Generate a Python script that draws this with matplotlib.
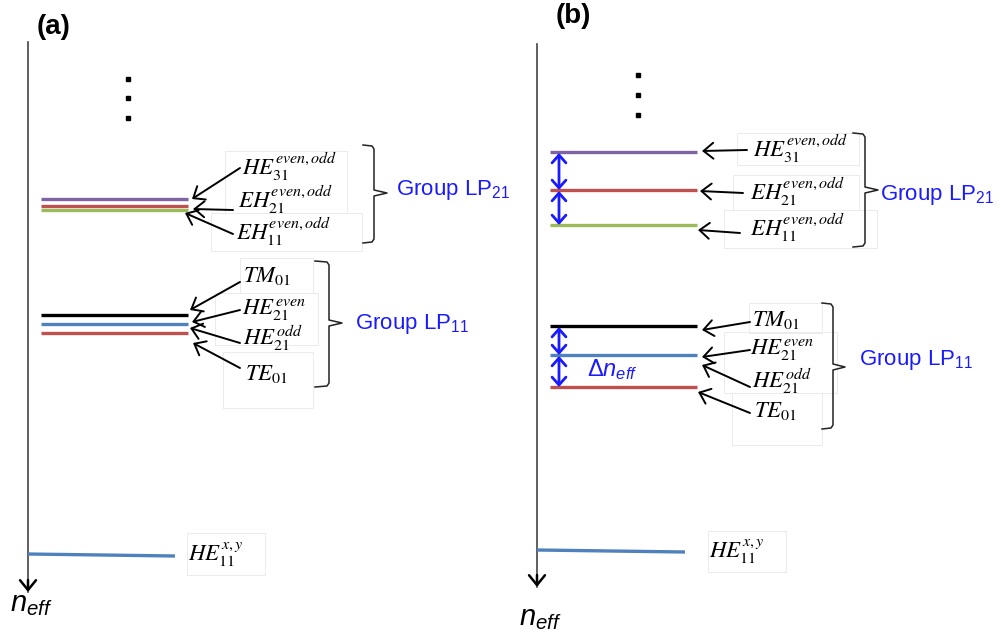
import matplotlib
matplotlib.use('Agg')
import matplotlib.pyplot as plt
from matplotlib.patches import Rectangle

plt.rcParams['font.family'] = ['Liberation Sans', 'DejaVu Sans']
plt.rcParams['mathtext.fontset'] = 'custom'
plt.rcParams['mathtext.rm'] = 'Liberation Sans'
plt.rcParams['mathtext.it'] = 'Liberation Sans:italic'
plt.rcParams['mathtext.bf'] = 'Liberation Sans:bold'

# mode names and level colours
lp21_modes = [r'$HE_{31}^{even,odd}$', r'$EH_{21}^{even,odd}$', r'$EH_{11}^{even,odd}$']
lp21_colors = ['#8064a2', '#c0504d', '#9bbb59']
lp11_modes = [r'$TM_{01}$', r'$HE_{21}^{even}$', r'$HE_{21}^{odd}$', r'$TE_{01}$']
lp11_colors = ['black', '#4f81bd', '#c0504d']
fund_mode = r'$HE_{11}^{x,y}$'
fund_color = '#4f81bd'

# level rows (screen units, n_eff grows downwards)
a_lp21_levels = [199, 206, 210]
a_lp11_levels = [315, 324, 333]
a_fund_level = [554, 556]
b_lp21_levels = [152, 190, 225]
b_lp11_levels = [326, 355, 387]
b_fund_level = [550, 552]

fig = plt.figure(figsize=(10.02, 6.41), dpi=100)
ax = fig.add_axes([0, 0, 1, 1])
ax.set_xlim(0, 1002)
ax.set_ylim(641, 0)
ax.axis('off')

BLUE = '#1a1aff'


def arrow(x0, y0, x1, y1, color='black', style='->,head_length=0.32,head_width=0.26',
          lw=1.4, ms=22):
    ax.annotate('', xy=(x1, y1), xytext=(x0, y0),
                arrowprops=dict(arrowstyle=style, color=color, lw=lw,
                                mutation_scale=ms, shrinkA=0, shrinkB=0))


def brace(x0, x1, xn, ytop, ymid, ybot):
    ax.plot([x0, x1 - 2, x1, x1, xn, x1, x1, x1 - 2, x0],
            [ytop, ytop + 1, ytop + 4, ymid - 3, ymid, ymid + 3, ybot - 4, ybot - 1, ybot],
            color='#222222', lw=1.1, solid_joinstyle='round')


def box(x0, y0, x1, y1):
    ax.add_patch(Rectangle((x0, y0), x1 - x0, y1 - y0, fill=False,
                           edgecolor='#ebebeb', lw=0.7))


def mode_label(x, y, s):
    ax.text(x, y, s, fontsize=16.5, math_fontfamily='stix', va='baseline', ha='left')


def axis(x, ytop, ytip, label_x, label_y):
    ax.plot([x, x], [ytop, ytip], color='#444444', lw=1.2)
    arrow(x, ytip - 12, x, ytip, lw=1.8, ms=22)
    ax.text(label_x, label_y, r'$n_{eff}$', fontsize=21, va='baseline', ha='left')


def dots(x, ys):
    ax.plot([x] * len(ys), ys, ls='none', marker='s', ms=3.2, color='black')


# ---------------- panel (a) ----------------
ax.text(37, 27, '(a)', fontsize=20, fontweight='bold', va='center', ha='left')
axis(28, 42, 592, 10, 611)
dots(128, [79, 98, 118])

for y, c in zip(a_lp21_levels, lp21_colors):
    ax.plot([41, 188], [y, y], color=c, lw=2.4, solid_capstyle='butt')
for y, c in zip(a_lp11_levels, lp11_colors):
    ax.plot([41, 188], [y, y], color=c, lw=2.4, solid_capstyle='butt')
ax.plot([28, 175], a_fund_level, color=fund_color, lw=2.4, solid_capstyle='butt')

box(225, 151, 347, 213)
box(211, 213, 362, 251)
box(240, 258, 313, 293)
box(215, 293, 318, 345)
box(223, 352, 313, 408)
box(187, 533, 265, 575)

for s, x, y in zip(lp21_modes, [242, 238, 236], [175, 208, 240]):
    mode_label(x, y, s)
for s, x, y in zip(lp11_modes, [243, 242, 243, 245], [282, 315, 345, 380]):
    mode_label(x, y, s)
mode_label(188, 561, fund_mode)

for (x0, y0), (x1, y1) in zip([(240, 168), (233, 210), (233, 234)],
                              [(192, 199), (193, 209), (185, 213)]):
    arrow(x0, y0, x1, y1)
for (x0, y0), (x1, y1) in zip([(240, 282), (240, 310), (240, 343), (240, 368)],
                              [(190, 310), (192, 322), (190, 328), (193, 343)]):
    arrow(x0, y0, x1, y1)

brace(363, 374, 387, 145, 193, 243)
ax.text(396, 195, r'Group LP$_{21}$', fontsize=16, color=BLUE, va='baseline')
brace(315, 329, 342, 261, 323, 387)
ax.text(355, 329, r'Group LP$_{11}$', fontsize=16, color=BLUE, va='baseline')

# ---------------- panel (b) ----------------
ax.text(556, 16, '(b)', fontsize=20, fontweight='bold', va='center', ha='left')
axis(537, 44, 587, 519, 625)
dots(638, [75, 95, 115])

for y, c in zip(b_lp21_levels, lp21_colors):
    ax.plot([550, 697], [y, y], color=c, lw=2.4, solid_capstyle='butt')
for y, c in zip(b_lp11_levels, lp11_colors):
    ax.plot([550, 697], [y, y], color=c, lw=2.4, solid_capstyle='butt')
ax.plot([537, 685], b_fund_level, color=fund_color, lw=2.4, solid_capstyle='butt')

box(737, 133, 859, 165)
box(733, 175, 859, 210)
box(724, 210, 877, 248)
box(749, 303, 822, 333)
box(724, 332, 837, 393)
box(732, 393, 822, 445)
box(708, 531, 786, 572)

for s, x, y in zip(lp21_modes, [753, 750, 750], [157, 200, 236]):
    mode_label(x, y, s)
for s, x, y in zip(lp11_modes, [752, 750, 752, 754], [326, 355, 388, 417]):
    mode_label(x, y, s)
mode_label(709, 558, fund_mode)

for (x0, y0), (x1, y1) in zip([(747, 150), (743, 193), (740, 233)],
                              [(702, 151), (700, 191), (698, 230)]):
    arrow(x0, y0, x1, y1)
for (x0, y0), (x1, y1) in zip([(750, 322), (750, 350), (750, 387), (750, 413)],
                              [(702, 330), (702, 357), (702, 365), (698, 392)]):
    arrow(x0, y0, x1, y1)

# level spacings
for lv in (b_lp21_levels, b_lp11_levels):
    for ya, yb in zip(lv[:-1], lv[1:]):
        arrow(559, ya + 1, 559, yb, color=BLUE,
              style='<->,head_length=0.28,head_width=0.25', lw=2.0, ms=20)
ax.text(587, 376, r'$\mathit{\Delta n}_{eff}$', fontsize=17, color=BLUE, va='baseline')

brace(853, 865, 878, 133, 190, 247)
ax.text(880, 200, r'Group LP$_{21}$', fontsize=16, color=BLUE, va='baseline')
brace(822, 833, 845, 303, 367, 429)
ax.text(859, 365, r'Group LP$_{11}$', fontsize=16, color=BLUE, va='baseline')

fig.savefig('out.png', dpi=100)
